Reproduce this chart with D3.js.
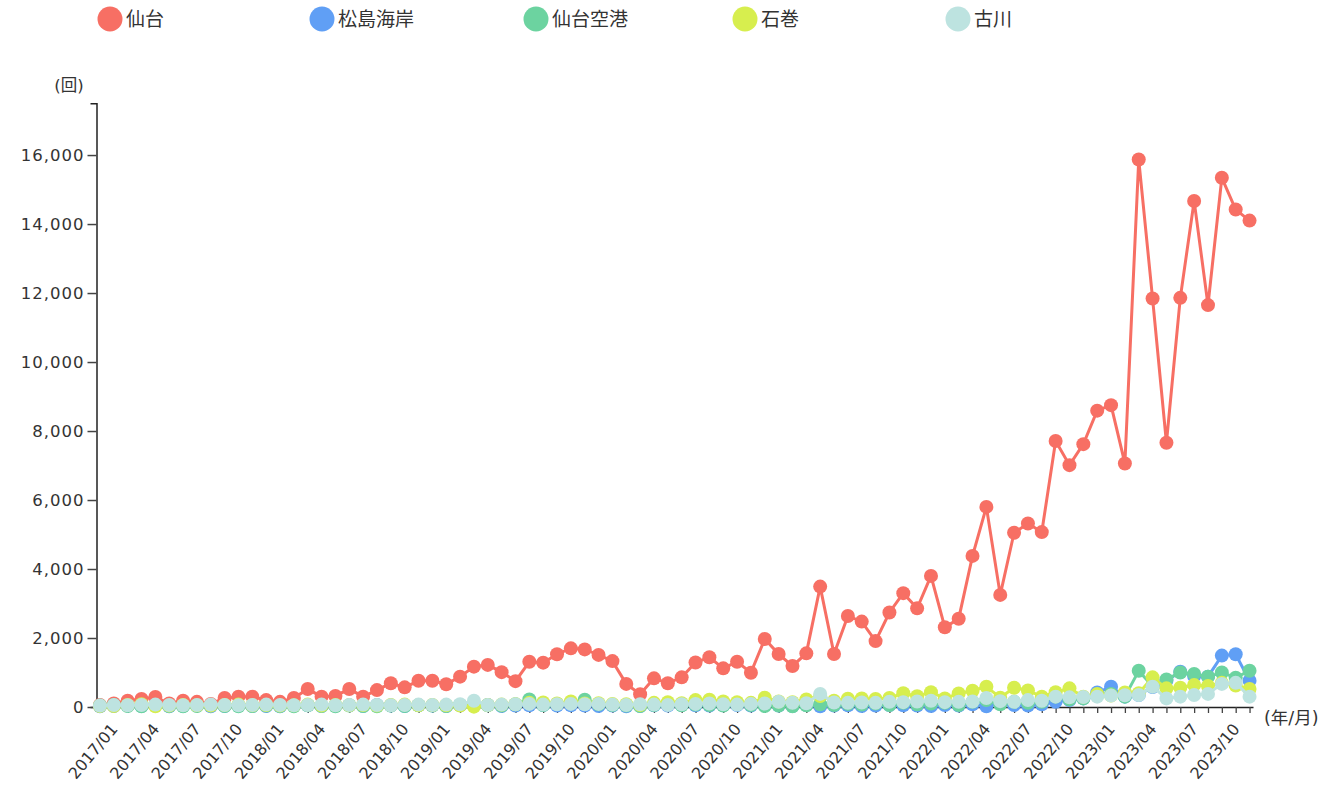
<!DOCTYPE html>
<html><head><meta charset="utf-8">
<script src="https://cdn.jsdelivr.net/npm/d3@7"></script>
<style>
body{margin:0;background:#fff;}
text{font-family:"DejaVu Sans","Noto Sans CJK JP",sans-serif;fill:#333;}
</style></head>
<body><svg id="chart" width="1334" height="794"></svg>
<script>
const seriesNames = ["仙台","松島海岸","仙台空港","石巻","古川"];
const seriesColors = ["#F76F64","#609FF5","#6CD3A0","#D7EE4E","#BDE3E0"];
const months = [];
for (let y = 2017; y <= 2023; y++) for (let m = 1; m <= 12; m++) months.push(y + "/" + String(m).padStart(2,"0"));
const yTicks = [0,2000,4000,6000,8000,10000,12000,14000,16000];

const sendai = [60,100,180,230,290,100,180,150,90,260,300,300,
 200,150,260,520,300,320,520,300,490,690,570,760,
 760,660,880,1170,1220,1010,750,1310,1285,1530,1700,1670,
 1510,1330,670,370,830,690,860,1290,1440,1120,1310,995,
 1970,1535,1190,1555,3490,1535,2640,2475,1910,2740,3300,2860,
 3800,2310,2560,4380,5800,3250,5050,5320,5070,7710,7010,7620,
 8590,8750,7060,15870,11840,7660,11860,14670,11650,15340,14420,14100];
const matsushima = [20,30,40,30,50,20,30,40,20,30,40,30,
 30,20,40,50,30,40,50,30,60,40,30,50,
 40,30,50,40,60,30,40,50,60,40,50,40,
 30,40,20,30,50,40,60,50,40,50,60,40,
 50,40,30,60,20,40,50,30,40,60,50,40,
 30,60,40,80,20,100,60,40,80,150,200,250,
 420,590,300,350,580,760,1020,900,880,1490,1530,760];
const sendaiAirport = [40,60,30,20,40,30,20,30,40,30,20,30,
 40,30,20,50,30,20,40,30,20,40,30,50,
 40,30,60,40,50,40,80,220,60,90,120,210,
 80,60,40,30,60,80,50,70,60,40,80,60,
 30,40,20,50,80,60,90,70,100,60,120,80,
 100,120,60,150,200,80,150,120,150,300,220,250,
 350,380,300,1050,600,800,1000,960,880,1000,850,1050];
const ishinomaki = [30,30,60,80,20,40,60,50,40,60,70,50,
 60,40,50,70,40,60,50,60,40,60,70,50,
 60,50,40,10,60,70,80,120,130,100,160,100,
 110,90,80,60,120,140,110,200,210,160,140,120,
 270,160,140,220,320,180,240,250,230,260,400,310,
 430,250,390,470,590,270,560,480,300,430,540,300,
 380,330,420,400,860,540,560,640,610,700,620,520];
const furukawa = [40,60,50,60,70,60,50,60,70,60,50,60,
 70,60,50,60,70,50,60,70,60,50,60,70,
 60,70,80,180,60,70,80,90,70,80,90,80,
 90,70,60,80,70,60,80,90,100,80,70,90,
 100,150,120,110,380,130,120,130,120,150,140,160,
 180,140,150,160,260,170,150,200,180,300,280,290,
 300,330,340,350,590,250,300,350,380,670,700,300];
const seriesValues = [sendai, matsushima, sendaiAirport, ishinomaki, furukawa];

const svg = d3.select("#chart");
const x = d3.scalePoint().domain(months).range([96.5,1253]).padding(0.25);
const y = d3.scaleLinear().domain([0,17500]).range([707,103.3]);

// Y axis
const yAxis = svg.append("g").attr("transform","translate(96.5,0)")
  .call(d3.axisLeft(y).tickValues(yTicks).tickFormat(d3.format(",")).tickSize(9).tickSizeOuter(6));
yAxis.select(".domain").attr("stroke","#222").attr("stroke-width",1.5);
yAxis.selectAll(".tick line").attr("stroke","#444").attr("stroke-width",1.5);
yAxis.selectAll("text").attr("font-size",16.5).attr("letter-spacing","1px").attr("x",-12).attr("fill","#333");

// X axis
const xAxis = svg.append("g").attr("transform","translate(0,707)")
  .call(d3.axisBottom(x).tickSize(6).tickSizeOuter(0)
    .tickFormat((d,i)=> i%3===0 ? d : ""));
xAxis.select(".domain").attr("stroke","#222").attr("stroke-width",1.5);
xAxis.selectAll(".tick line").attr("stroke","#444").attr("stroke-width",1.3);
xAxis.selectAll("text").attr("font-size",16).attr("text-anchor","end")
  .attr("transform","translate(6,8) rotate(-50)").attr("dy","0.6em").attr("dx","-0.2em").attr("fill","#333");

svg.append("text").attr("x",69).attr("y",91).attr("text-anchor","middle").attr("font-size",16.5).text("(回)");
svg.append("text").attr("x",1264).attr("y",724).attr("font-size",17.5).text("(年/月)");

// Lines & dots
const line = d3.line().x((d,i)=>x(months[i])).y(d=>y(d));
seriesValues.forEach((vals,s)=>{
  const g = svg.append("g");
  g.append("path").datum(vals).attr("d",line).attr("fill","none")
    .attr("stroke",seriesColors[s]).attr("stroke-width",3);
  g.selectAll("circle").data(vals).join("circle")
    .attr("cx",(d,i)=>x(months[i])).attr("cy",d=>y(d)).attr("r",7)
    .attr("fill",seriesColors[s]);
});

// Legend
const legendX = [110,322,536,745,958];
seriesNames.forEach((n,s)=>{
  svg.append("circle").attr("cx",legendX[s]).attr("cy",19).attr("r",12.5).attr("fill",seriesColors[s]);
  svg.append("text").attr("x",legendX[s]+16).attr("y",26).attr("font-size",19)
    .attr("font-family","'Noto Sans CJK JP',sans-serif").text(n);
});
</script></body></html>
